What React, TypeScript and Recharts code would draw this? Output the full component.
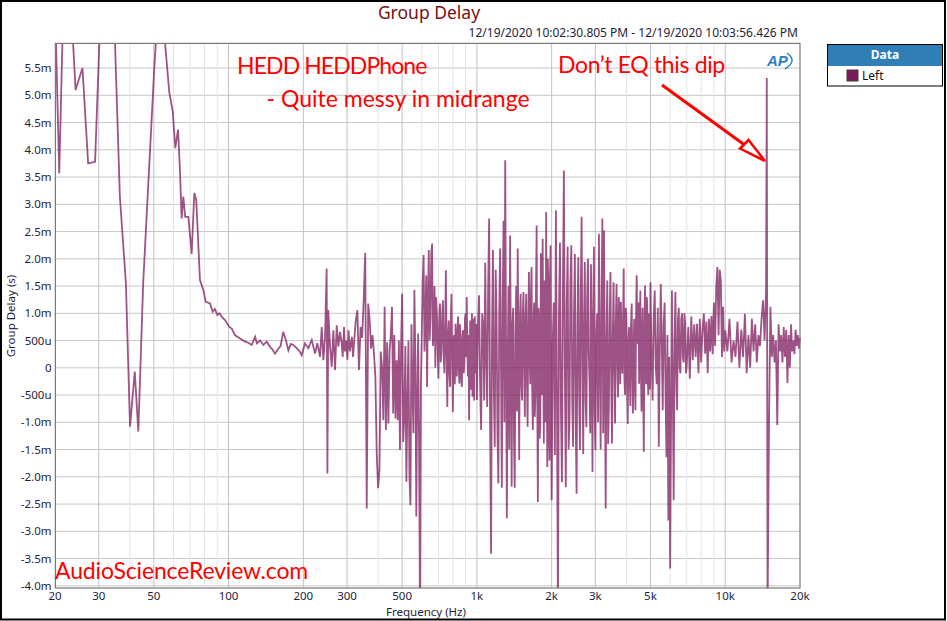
import { LineChart, Line, XAxis, YAxis, CartesianGrid, ReferenceLine } from "recharts";

// Group delay of the left channel, frequency in Hz, delay in ms
const lowFreqs = [20, 20.8, 22.1, 24.2, 25.8, 27.2, 29, 32.6, 36.5, 38.6, 40.1, 41.9, 43.3, 45.3, 50.2, 52.8, 57.7, 59.6, 61, 62.6, 63.7, 64.7, 65.7, 66.9, 68.9, 71, 72.8, 74.1, 76.7, 79.1, 80.9, 84.2, 86.3, 88, 90.1, 91.8, 93.8, 96.7, 100.7, 103, 106.1, 111.2, 116.5, 120, 124, 127.9, 130, 133.9, 138.1, 142.5, 146.9, 150, 153.8, 158.5, 162, 166, 170.3, 174.1, 178, 182.3, 188, 194, 197.1, 203.1, 209.4, 216.2, 222.9, 227.7, 233.5, 237.2, 240.8, 244.6, 248.3, 250, 252, 256.2, 260.3, 264.2, 268.4, 272.6, 276.7, 281.1, 285.5, 288, 291.7, 294, 297.3, 301, 304, 308, 313.7, 317, 320.6, 325];
const lowDelay = [6.7, 3.57, 8.5, 5.1, 5.5, 3.75, 3.78, 10.2, 3.14, 1.55, -1.08, -0.07, -1.17, 1.55, 5.49, 7.1, 5.06, 4.7, 4.03, 4.37, 3.63, 2.74, 3.14, 2.77, 2.77, 2.09, 3.21, 3.08, 1.61, 1.43, 1.21, 1.18, 1.03, 1.08, 0.97, 1.0, 0.94, 0.875, 0.75, 0.72, 0.6, 0.54, 0.48, 0.46, 0.42, 0.57, 0.45, 0.5, 0.42, 0.48, 0.385, 0.34, 0.26, 0.35, 0.4, 0.66, 0.5, 0.32, 0.44, 0.42, 0.36, 0.29, 0.23, 0.45, 0.36, 0.51, 0.26, 0.45, 0.2, 0.75, 0.14, 0.57, 1.82, -1.94, 1.06, 0.39, 0.02, 0.69, -0.04, 0.78, 0.39, 0.66, 0.45, 0.2, 0.75, 0.3, 0.5, 0.15, 0.69, 0.3, 0.57, 0.2, 0.5, 0.85];

const freqsA = [330, 335, 340, 345, 350, 355, 360, 365, 370, 375, 380, 385, 390, 395, 400, 405, 410, 415, 420, 425, 430, 435, 440, 445, 450, 455, 460, 465, 470, 475, 480, 485, 490, 495];
const delayA = [1.06, -0.04, 0.75, 0.55, 1.24, 2.11, -2.58, 1.18, 0.87, 0.35, 0.6, 0.26, -0.16, -1.57, -2.21, -1.88, 0.3, 0.02, -0.96, 1.12, -1.14, 0.47, -1.02, 0.32, 0.6, 1.12, -0.84, 0.6, -0.93, 0.14, -0.96, 0.5, -1.51, 0.4];

const freqsB = [500, 505, 510, 515, 520, 525, 530, 535, 540, 545, 550, 555, 560, 565, 570, 575, 580, 585, 590, 595, 600, 605, 610, 615, 620, 625, 630, 635, 640, 645, 650, 655, 660, 665, 670, 675, 680, 685, 690, 695, 700, 705, 710, 715, 720, 725, 730, 735, 740, 745, 750, 755, 760, 765, 770, 775, 780, 785, 790, 795, 800, 805, 810, 815, 820, 825, 830, 835, 840, 845, 850, 855, 860, 865, 870, 875, 880, 885, 890, 895, 900, 905, 910, 915, 920, 925, 930, 935, 940, 945, 950, 955, 960, 965, 970, 975, 980, 985, 990, 995];
const delayB = [1.36, -1.36, -0.9, 0.4, -2.09, -0.6, 0.5, -2.0, -2.52, 0.8, -0.35, -1.2, 1.43, 0.2, -2.73, -0.5, 0.63, -1.5, -4.6, -0.3,
  0.63, 1.6, 2.07, 0.3, 0.87, 1.7, -0.35, 1.2, 2.16, 0.5, 0.9, 2.1, 2.28, 0.4, 0.69, 1.5, 0.0, 1.3, 1.0, 0.3,
  -0.2, 0.9, 1.18, 0.1, 0.3, 1.0, 1.24, 0.2, -0.1, 0.7, 1.79, 0.2, -0.72, 0.6, 0.87, -0.1, -0.35, 0.9, 1.36, 0.3,
  -0.81, 0.5, 0.6, -0.3, 0.81, 0.2, -0.16, 0.7, 0.94, 0.0, -0.29, 0.8, 0.5, -0.2, -0.35, 0.6, 0.69, -0.1, 0.1, 0.9,
  1.0, 0.2, 1.3, 0.4, -0.16, 0.6, -0.96, 0.3, 0.87, -0.4, 0.2, 1.0, -0.53, 0.2, 0.9, -0.6, 0.94, 0.1, -0.1, 0.8];

const freqsC = [1000, 1010, 1020, 1030, 1040, 1050, 1060, 1070, 1080, 1090, 1100, 1110, 1120, 1130, 1140, 1150, 1160, 1170, 1180, 1190, 1200, 1210, 1220, 1230, 1240, 1250, 1260, 1270, 1280, 1290, 1300, 1310, 1320, 1330, 1340, 1350, 1360, 1370, 1380, 1390, 1400, 1410, 1420, 1430, 1440, 1450, 1460, 1470, 1480, 1490, 1500, 1510, 1520, 1530, 1540, 1550, 1560, 1570, 1580, 1590, 1600, 1610, 1620, 1630, 1640, 1650, 1660, 1670, 1680, 1690, 1700, 1710, 1720, 1730, 1740, 1750, 1760, 1770, 1780, 1790, 1800, 1810, 1820, 1830, 1840, 1850, 1860, 1870, 1880, 1890, 1900, 1910, 1920, 1930, 1940, 1950, 1960, 1970, 1980, 1990];
const delayC = [-0.59, 0.8, 1.33, -0.3, -1.14, 1.0, 0.8, -0.6, 1.93, 0.2, -0.72, 1.5, 2.74, -1.0, -3.41, 0.5, 2.16, -0.4, -1.45, 1.8,
  0.93, -1.2, -2.12, 1.0, 2.19, 0.0, -2.2, 1.2, 2.7, -1.0, 3.81, 0.5, -2.76, 0.0, 1.5, -1.5, 2.43, 0.3, -2.18, 0.8,
  1.1, -1.3, -2.2, 0.6, 1.5, -0.8, 2.19, 0.2, -1.69, 0.9, 1.36, -0.3, -0.6, 1.0, 1.39, 0.0, -0.9, 0.9, 1.36, -0.2,
  -1.08, 0.7, 1.76, 0.2, -0.3, 1.3, 1.85, -0.4, -1.14, 0.8, 1.2, -0.9, -0.5, 1.5, 2.61, -0.6, -2.46, 1.1, 0.9, -1.3,
  -1.0, 2.1, 1.6, -0.5, 2.37, 0.2, -1.39, 1.6, 1.2, -1.0, 2.86, 0.0, -1.82, 2.0, 1.5, -1.2, -1.7, 1.7, 2.25, -0.8];

const freqsD = [2000, 2020, 2040, 2060, 2080, 2100, 2120, 2140, 2160, 2180, 2200, 2220, 2240, 2260, 2280, 2300, 2320, 2340, 2360, 2380, 2400, 2420, 2440, 2460, 2480, 2500, 2520, 2540, 2560, 2580, 2600, 2620, 2640, 2660, 2680, 2700, 2720, 2740, 2760, 2780, 2800, 2820, 2840, 2860, 2880, 2900, 2920, 2940, 2960, 2980];
const delayD = [-2.43, 0.5, 1.2, -1.6, 2.89, -0.5, -4.6, 1.0, 2.3, -0.8, -2.1, 1.5, 3.62, 0.0, -2.19, 1.2, 2.22, -1.5, -0.96, 1.6,
  2.25, -0.6, -1.45, 1.0, 2.09, -1.0, -2.31, 0.8, 2.03, -0.4, -1.51, 1.4, 2.77, 0.0, -1.58, 0.9, 1.94, -0.6, -1.09, 1.3,
  2.0, 0.3, -0.23, -1.2, 1.9, 0.4, -1.91, 0.9, 2.22, -0.8];

const freqsE = [3000, 3025, 3050, 3075, 3100, 3125, 3150, 3175, 3200, 3225, 3250, 3275, 3300, 3325, 3350, 3375, 3400, 3425, 3450, 3475, 3500, 3525, 3550, 3575, 3600, 3625, 3650, 3675, 3700, 3725, 3750, 3775, 3800, 3825, 3850, 3875, 3900, 3925, 3950, 3975, 4000, 4025, 4050, 4075, 4100, 4125, 4150, 4175, 4200, 4225, 4250, 4275, 4300, 4325, 4350, 4375, 4400, 4425, 4450, 4475, 4500, 4525, 4550, 4575, 4600, 4625, 4650, 4675, 4700, 4725, 4750, 4775, 4800, 4825, 4850, 4875, 4900, 4925, 4950, 4975];
const delayE = [-1.51, 0.6, 1.0, -1.0, 2.46, 0.2, -1.5, 1.2, 2.74, -1.2, 2.52, 0.0, -2.58, 0.5, 1.6, -1.4, -0.66, 0.9, 1.76, -0.3,
  -1.39, 0.6, 1.57, 0.0, -1.02, 0.8, 1.54, 0.1, -0.54, 1.3, 1.0, -0.3, 1.21, 0.3, -0.11, 0.8, 1.82, -0.2, -0.5, 1.1,
  0.9, -0.4, -1.03, 0.5, 0.75, -0.2, -0.7, 0.8, 1.18, 0.0, -0.84, 0.4, 0.9, -0.3, -0.78, 1.0, 1.7, 0.6, 0.44, 1.2,
  -0.29, 0.5, 1.42, 0.0, -0.8, 0.6, 1.1, -0.5, -1.54, 0.4, 1.51, 0.2, -0.3, 1.3, 1.2, -0.2, -0.5, 1.0, 0.9, -0.4];

const freqsF = [5000, 5050, 5100, 5150, 5200, 5250, 5300, 5350, 5400, 5450, 5500, 5550, 5600, 5650, 5700, 5750, 5800, 5850, 5900, 5950, 6000, 6050, 6100, 6150, 6200, 6250, 6300, 6350, 6400, 6450, 6500, 6550, 6600, 6650, 6700, 6750, 6800, 6850, 6900, 6950, 7000, 7100, 7200, 7300, 7400, 7500, 7600, 7700, 7800, 7900, 8000, 8100, 8200, 8300, 8400, 8500, 8600, 8700, 8800, 8900, 9000, 9100, 9200, 9300, 9400, 9500, 9600, 9700, 9800, 9900];
const delayF = [1.57, 0.2, -0.6, 0.9, 1.42, 0.0, -0.3, 1.1, -1.45, 0.3, 1.54, 0.5, -0.78, 0.8, 1.2, -0.5, -1.64, 0.6, -2.8, 0.2,
  -3.68, -1.0, 1.42, -0.4, -2.43, 0.5, 1.39, -0.2, -0.78, 0.9, 1.1, 0.0, -0.1, 0.9, 1.0, 0.2, 0.1, 1.0, 0.8, -0.1,
  0.05, 0.75, -0.2, 0.94, 0.14, 0.8, 0.2, 0.81, -0.1, 0.9, 0.1, 0.7, 1.0, 0.26, 0.85, -0.1, 0.9, 0.3, 0.95, 0.25,
  1.2, 0.4, 1.5, 1.85, 0.6, 1.8, 1.6, 0.2, 1.12, 0.3];

const freqsG = [10000, 10200, 10400, 10600, 10800, 11000, 11200, 11400, 11600, 11800, 12000, 12200, 12400, 12600, 12800, 13000, 13200, 13400, 13600, 13800, 14000, 14200, 14400, 14600, 14700, 14800, 15000, 15200, 15400, 15600, 15800, 16000, 16200, 16400, 16600, 16800, 17000, 17200, 17400, 17600, 17800, 18000, 18200, 18400, 18600, 18800, 19000, 19200, 19400, 19600, 19800, 20000];
const delayG = [0.69, 0.3, 0.9, 0.1, 0.5, 0.2, 0.85, 0.0, 0.7, 0.2, 0.99, -0.1, 0.6, 0.0, 0.9, 0.3, 0.8, 0.1, 0.6, 0.4, 0.9, 1.24, 0.5, 1.43, 5.32, -4.6, -1.08, 1.12, 0.2, 0.6, 0.1, 0.5, -1.05, 0.8, 0.3, 0.6, 0.1, 0.75, 0.2, 0.7, -0.28, 0.6, 0.0, 0.8, 0.3, 0.5, 0.25, 0.7, 0.4, 0.6, 0.35, 0.55];

const freqTicks = [20, 30, 50, 100, 200, 300, 500, 1000, 2000, 3000, 5000, 10000, 20000];
const minorFreqs = [40, 60, 70, 80, 90, 400, 600, 700, 800, 900, 4000, 6000, 7000, 8000, 9000];
const delayTicks = [-4, -3.5, -3, -2.5, -2, -1.5, -1, -0.5, 0, 0.5, 1, 1.5, 2, 2.5, 3, 3.5, 4, 4.5, 5, 5.5];

const segments: [number[], number[]][] = [
  [lowFreqs, lowDelay],
  [freqsA, delayA],
  [freqsB, delayB],
  [freqsC, delayC],
  [freqsD, delayD],
  [freqsE, delayE],
  [freqsF, delayF],
  [freqsG, delayG],
];

const data = segments.flatMap(([fs, vs]) =>
  fs.map((f, i) => ({ f, delay: vs[i] })).filter((d) => d.delay !== undefined)
);

const fmtFreq = (f: number) => (f >= 1000 ? `${f / 1000}k` : `${f}`);
const fmtDelay = (v: number) =>
  v === 0 ? "0" : Math.abs(v) < 1 ? `${Math.round(v * 1000)}u` : `${v.toFixed(1)}m`;

const tickStyle = { fontSize: 11.5, fill: "#1e1e3c", fontFamily: "Noto Sans" };
const red = "#ff0000";
const note = { fontFamily: "Lato", fontSize: 23, fill: red };

export default function App() {
  return (
    <div style={{ position: "absolute", left: 0, top: 0, width: 947, height: 621, background: "#fff" }}>
      <LineChart width={947} height={621} data={data} margin={{ top: 43, right: 147, bottom: 3, left: 5 }}>
        <CartesianGrid vertical={false} stroke="#c6c6c6" />
        {minorFreqs.map((f) => (
          <ReferenceLine key={"m" + f} x={f} stroke="#e4e4e4" />
        ))}
        {freqTicks.map((f) => (
          <ReferenceLine key={"M" + f} x={f} stroke="#c2c2c2" />
        ))}
        <XAxis
          dataKey="f"
          type="number"
          scale="log"
          domain={[20, 20000]}
          ticks={freqTicks}
          tickFormatter={fmtFreq}
          interval={0}
          height={30}
          axisLine={false}
          tickLine={false}
          tickSize={2}
          tickMargin={1.5}
          tick={tickStyle}
        />
        <YAxis
          type="number"
          domain={[-4.04, 5.96]}
          allowDataOverflow
          ticks={delayTicks}
          tickFormatter={fmtDelay}
          interval={0}
          width={50}
          axisLine={false}
          tickLine={false}
          tickSize={2}
          tickMargin={1.5}
          tick={tickStyle}
        />
        <Line
          type="linear"
          dataKey="delay"
          stroke="#7d1a5e"
          strokeOpacity={0.75}
          strokeWidth={1.8}
          dot={false}
          isAnimationActive={false}
        />
      </LineChart>

      <svg width={947} height={621} style={{ position: "absolute", left: 0, top: 0, pointerEvents: "none" }}>
        <rect x={55.5} y={43.5} width={744.5} height={544.5} fill="none" stroke="#7a7a7a" />
        <rect x={1} y={1} width={944} height={618.5} fill="none" stroke="#000" strokeWidth={2} />

        <text x={429} y={19} textAnchor="middle" fontFamily="Noto Sans" fontSize={17.5} fill="#7a1010">
          Group Delay
        </text>
        <text x={798} y={37} textAnchor="end" fontFamily="Noto Sans" fontSize={12} fill="#1e1e3c">
          12/19/2020 10:02:30.805 PM - 12/19/2020 10:03:56.426 PM
        </text>

        <text x={237} y={73.5} {...note} letterSpacing={-0.9}>HEDD HEDDPhone</text>
        <text x={266.5} y={107} {...note}>- Quite messy in midrange</text>
        <text x={558} y={73} {...note} letterSpacing={-0.35}>Don’t EQ this dip</text>
        <text x={55} y={578.5} {...note} letterSpacing={-0.15}>AudioScienceReview.com</text>

        <line x1={662} y1={85} x2={744} y2={144.5} stroke={red} strokeWidth={3} />
        <polygon points="765,161 740,148.5 748.5,140" fill="#fff" stroke={red} strokeWidth={2.5} strokeLinejoin="miter" />

        <text x={767} y={66} fontFamily="Liberation Sans" fontStyle="italic" fontWeight="bold" fontSize={15} fill="#2a7fc8">
          AP
        </text>
        <path d="M 787 53 Q 798 61 785 69" fill="none" stroke="#2a7fc8" strokeWidth={1.5} />

        <text
          x={15}
          y={316}
          transform="rotate(-90 15 316)"
          textAnchor="middle"
          fontFamily="Noto Sans"
          fontSize={11.5}
          fill="#1e1e3c"
        >
          Group Delay (s)
        </text>
        <text x={426} y={616} textAnchor="middle" fontFamily="Noto Sans" fontSize={11.5} fill="#1e1e3c">
          Frequency (Hz)
        </text>

        <rect x={827} y={44} width={116} height={22} fill="#2f7eb6" />
        <rect x={827.5} y={44.5} width={115} height={41.5} fill="none" stroke="#000" />
        <text x={885} y={59} textAnchor="middle" fontFamily="Noto Sans" fontWeight="bold" fontSize={12} fill="#fff">
          Data
        </text>
        <rect x={847} y={70} width={11} height={11} fill="#7b1a5a" stroke="#3a3a3a" />
        <text x={862} y={80} fontFamily="Noto Sans" fontSize={12} fill="#111">
          Left
        </text>
      </svg>
    </div>
  );
}
